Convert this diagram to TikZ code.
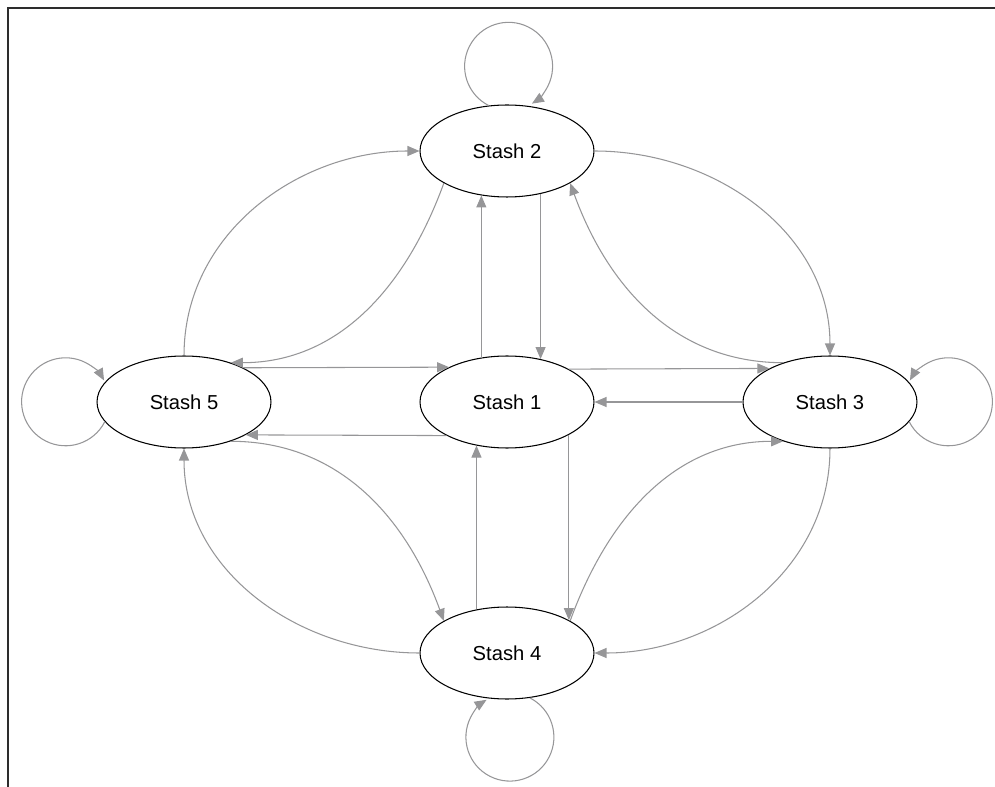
\documentclass[tikz,border=0pt]{standalone}
\usepackage{fontspec}
\setmainfont{Liberation Sans}
\usepackage{tikz}
\usetikzlibrary{shapes.geometric, arrows.meta, positioning}
\definecolor{stashgray}{RGB}{150,150,152}
\definecolor{framegray}{RGB}{45,45,45}

\begin{document}
\begin{tikzpicture}[
    x=0.02cm, y=-0.02cm,
    node distance=3.16cm and 2.96cm,
    every node/.style={font=\fontsize{11.5pt}{14pt}\selectfont},
    stash/.style={ellipse, minimum width=3.48cm, minimum height=1.84cm, inner sep=0pt, draw=black, line width=0.6pt},
    arrow/.style={-{Triangle[length=2.4mm, width=2mm]}, draw=stashgray, line width=0.6pt}
]
\useasboundingbox (0,0) rectangle (995,787);

% page frame
\draw[framegray, line width=1.1pt] (995,8) -- (8,8) -- (8,787);

\node[stash] (s1) at (507,402) {Stash 1};
\node[stash, above=of s1] (s2) {Stash 2};
\node[stash, right=of s1] (s3) {Stash 3};
\node[stash, below=of s1] (s4) {Stash 4};
\node[stash, left=of s1] (s5) {Stash 5};

% straight links through the middle
\draw[arrow] (s2.-52.2) -- (s1.52.2);
\draw[arrow] (s1.120.6) -- (s2.-120.6);
\draw[arrow] (s1.-28.3) -- (s4.28.3);
\draw[arrow] (s4.125.8) -- (s1.-125.8);
\draw[arrow] (s5.30.1) -- (s1.149.9);
\draw[arrow] (s1.-151.4) -- (s5.-28.6);
\draw[arrow] (s1.28.6) -- (s3.151.4);
\draw[arrow] (s3.west) -- (s1.east);

% curved links between outer stashes
\draw[arrow] (s2.east) to[out=0, in=90] (s3.north);
\draw[arrow] (s3.140) to[out=180, in=-70] (s2.-27);
\draw[arrow] (s5.north) to[out=90, in=180] (s2.west);
\draw[arrow] (s2.-153) to[out=-110, in=0] (s5.40);
\draw[arrow] (s4.west) to[out=180, in=-90] (s5.south);
\draw[arrow] (s5.-40) to[out=0, in=110] (s4.153);
\draw[arrow] (s3.south) to[out=-90, in=0] (s4.east);
\draw[arrow] (s4.27) to[out=70, in=180] (s3.-140);

% self loops
\draw[arrow] (s2.112) arc[start angle=243, end angle=-58, radius=0.88cm];
\draw[arrow] (s5.-166) arc[start angle=333, end angle=29, radius=0.88cm];
\draw[arrow] (s3.-14) arc[start angle=207, end angle=511, radius=0.88cm];
\draw[arrow] (s4.-63) arc[start angle=63, end angle=-238, radius=0.88cm];

\end{tikzpicture}
\end{document}
